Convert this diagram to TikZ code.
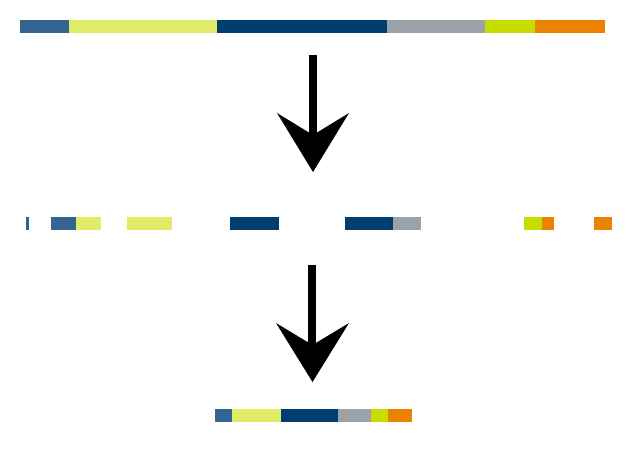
\documentclass[tikz,border=0pt]{standalone}
\usepackage{tikz}
\definecolor{cblue}{RGB}{52,101,144}
\definecolor{cyel}{RGB}{224,235,104}
\definecolor{cnavy}{RGB}{0,61,112}
\definecolor{cgray}{RGB}{155,162,170}
\definecolor{clime}{RGB}{200,220,0}
\definecolor{corange}{RGB}{235,130,0}
\tikzset{
  seg/.style={fill=#1},
  arrowfill/.style={fill=black}
}
\newcommand{\bigarrow}[2]{%
  \fill[arrowfill] ($(#1)+(-3.8,0)$) rectangle ($(#2)+(3.8,-45)$);
  \fill[arrowfill] ($(#2)+(-36,-59)$) -- (#2) -- ($(#2)+(36,-59)$) -- ($(#2)+(0,-37)$) -- cycle;
}
\usetikzlibrary{calc}
\begin{document}
\begin{tikzpicture}[x=1pt,y=-1pt]
\useasboundingbox (0,0) rectangle (626,448);
% top bar
\fill[seg=cblue]   (20,20) rectangle (69,33);
\fill[seg=cyel]    (69,20) rectangle (217,33);
\fill[seg=cnavy]   (217,20) rectangle (387,33);
\fill[seg=cgray]   (387,20) rectangle (485,33);
\fill[seg=clime]   (485,20) rectangle (535,33);
\fill[seg=corange] (535,20) rectangle (605,33);
% arrow 1
\coordinate (a1top) at (313,55);
\coordinate (a1tip) at (313,172);
\fill[arrowfill] (309.2,55) rectangle (316.8,140);
\fill[arrowfill] (277,113) -- (a1tip) -- (349,113) -- (313,135) -- cycle;
% middle row
\fill[seg=cblue]   (26,217) rectangle (29,230);
\fill[seg=cblue]   (51,217) rectangle (76,230);
\fill[seg=cyel]    (76,217) rectangle (101,230);
\fill[seg=cyel]    (127,217) rectangle (172,230);
\fill[seg=cnavy]   (230,217) rectangle (279,230);
\fill[seg=cnavy]   (345,217) rectangle (393,230);
\fill[seg=cgray]   (393,217) rectangle (421,230);
\fill[seg=clime]   (524,217) rectangle (542,230);
\fill[seg=corange] (542,217) rectangle (554,230);
\fill[seg=corange] (594,217) rectangle (612,230);
% arrow 2
\coordinate (a2top) at (312,265);
\coordinate (a2tip) at (312.5,382);
\fill[arrowfill] (308.3,265) rectangle (316,350);
\fill[arrowfill] (276,323) -- (a2tip) -- (349,323) -- (312.5,345) -- cycle;
% bottom bar
\fill[seg=cblue]   (215,409) rectangle (232,422);
\fill[seg=cyel]    (232,409) rectangle (281,422);
\fill[seg=cnavy]   (281,409) rectangle (338,422);
\fill[seg=cgray]   (338,409) rectangle (371,422);
\fill[seg=clime]   (371,409) rectangle (388,422);
\fill[seg=corange] (388,409) rectangle (412,422);
\end{tikzpicture}
\end{document}
